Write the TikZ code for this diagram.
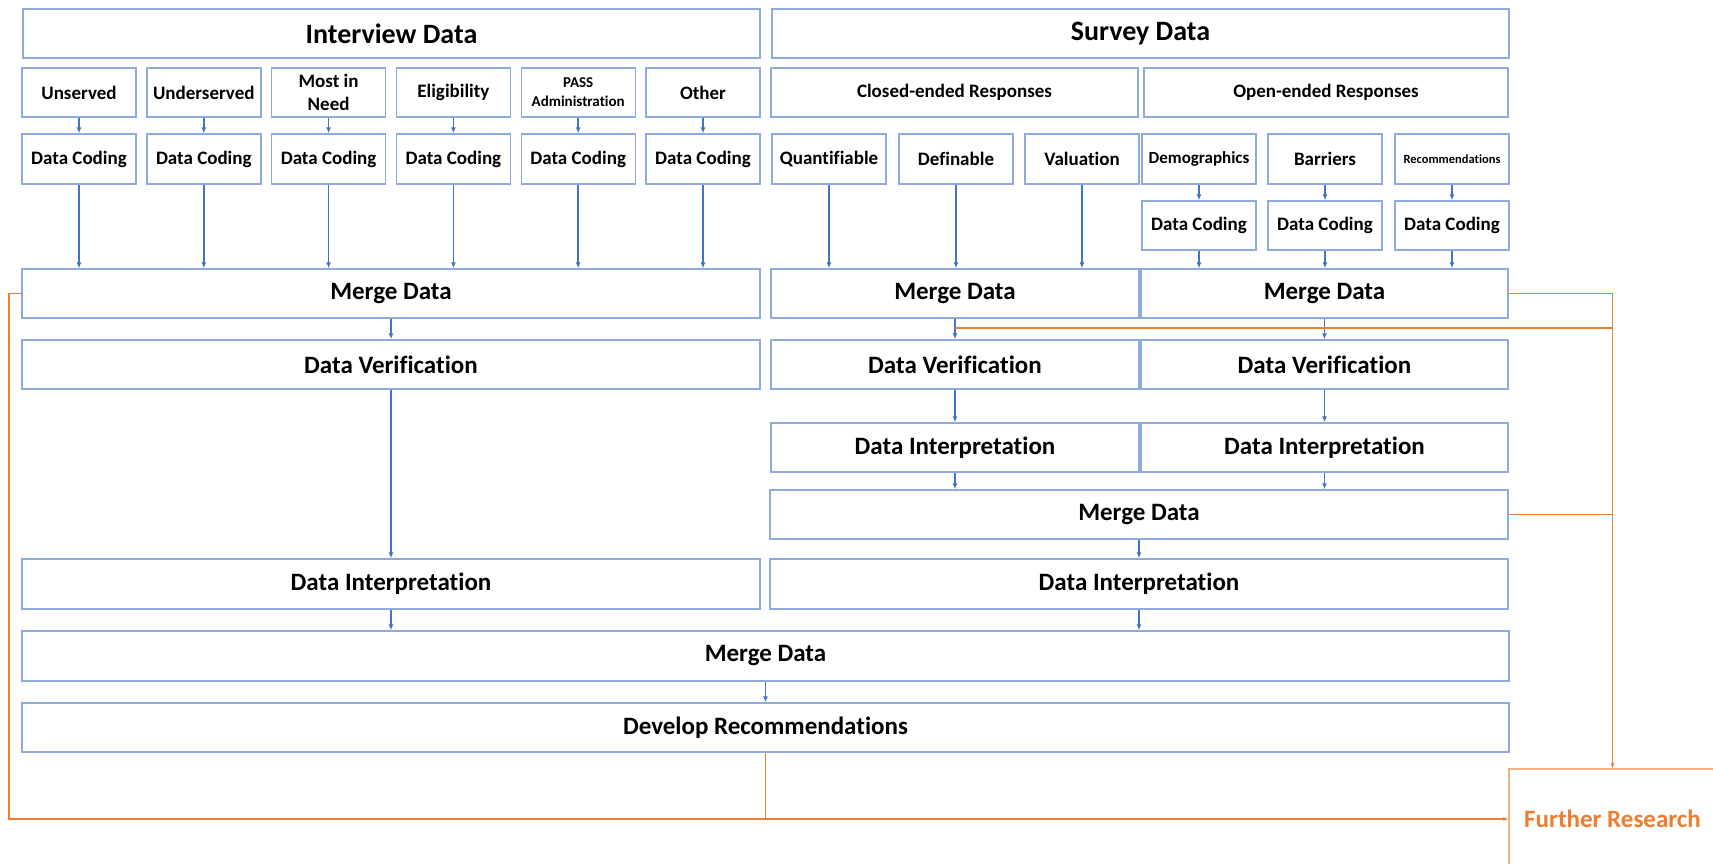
\documentclass[tikz,border=0pt]{standalone}
\usepackage{fontspec}
\setmainfont{Carlito}[Ligatures=NoCommon]
\usetikzlibrary{arrows.meta}
\definecolor{boxblue}{RGB}{143,170,220}
\definecolor{arrblue}{RGB}{68,114,196}
\definecolor{fborange}{RGB}{237,125,49}
\definecolor{fblight}{RGB}{244,177,131}

\begin{document}
\begin{tikzpicture}[
  x=1pt, y=-1pt,
  box/.style={
    draw=boxblue, line width=1.4pt, fill=white,
    inner sep=0pt, align=center, font=\bfseries
  },
  f28/.style={font=\bfseries\fontsize{28}{30}\selectfont},
  f25/.style={font=\bfseries\fontsize{25}{27}\selectfont},
  f19/.style={font=\bfseries\fontsize{19}{23}\selectfont},
  f17/.style={font=\bfseries\fontsize{17}{19}\selectfont},
  f15/.style={font=\bfseries\fontsize{15}{19}\selectfont},
  f12/.style={font=\bfseries\fontsize{12.5}{14}\selectfont},
  sm/.style={box, minimum width=114pt, minimum height=49pt},
  half/.style={box, f25, minimum width=368pt, minimum height=49pt},
  wide/.style={box, f25, minimum width=738pt, minimum height=49pt},
  full/.style={box, f25, minimum width=1487pt, minimum height=49pt},
  arr/.style={draw=arrblue, line width=1.5pt, -{Latex[length=6pt,width=5pt]}},
  fb/.style={draw=fborange, line width=1.2pt}
]
  \useasboundingbox (0,0) rectangle (1713,864);
  \clip (0,0) rectangle (1713,864);

  \node[box, f28, minimum width=737pt, minimum height=49pt] (intv) at (391.5,33.5) {Interview Data};
  \node[box, f28, minimum width=737pt, minimum height=49pt] (surv) at (1140.5,33.5) {Survey Data};
  \node[box, f19, minimum width=367pt, minimum height=49pt] (clsd) at (954.5,92.5) {Closed-ended Responses};
  \node[box, f19, minimum width=364pt, minimum height=49pt] (opnd) at (1326,92.5) {Open-ended Responses};

  \node[wide] (imrg) at (391,293.5) {Merge Data};
  \node[half] (cmrg) at (955,293.5) {Merge Data};
  \node[half, minimum width=367pt] (omrg) at (1324.5,293.5) {Merge Data};

  % interview branches
  \foreach \n/\x/\f/\t in {1/79/f19/Unserved, 2/203.8/f19/Underserved,
      3/328.6/f19/{Most in\\Need}, 4/453.4/f19/Eligibility,
      5/578.2/f15/{PASS\\Administration}, 6/703/f19/Other} {
    \node[sm, \f] (t\n) at (\x,92.5) {\t};
    \node[sm, f19, minimum height=50pt] (c\n) at (\x,159) {Data Coding};
    \draw[arr] (t\n) -- (c\n);
    \draw[arr] (c\n) -- (c\n |- imrg.north);
  }

  % closed-ended items
  \foreach \n/\x/\t in {1/829/Quantifiable, 2/956/Definable, 3/1082/Valuation} {
    \node[sm, f19, minimum height=50pt] (q\n) at (\x,159) {\t};
    \draw[arr] (q\n) -- (q\n |- cmrg.north);
  }

  % open-ended items
  \foreach \n/\x/\f/\t in {1/1199/f17/Demographics, 2/1325/f19/Barriers,
      3/1452/f12/Recommendations} {
    \node[sm, \f, minimum height=50pt] (o\n) at (\x,159) {\t};
    \node[sm, f19] (d\n) at (\x,225.5) {Data Coding};
    \draw[arr] (o\n) -- (d\n);
    \draw[arr] (d\n) -- (d\n |- omrg.north);
  }

  \node[wide] (ivrf) at (391,364.5) {Data Verification};
  \node[half] (cvrf) at (955,364.5) {Data Verification};
  \node[half, minimum width=367pt] (ovrf) at (1324.5,364.5) {Data Verification};
  \node[half] (cint) at (955,447.5) {Data Interpretation};
  \node[half, minimum width=367pt] (oint) at (1324.5,447.5) {Data Interpretation};
  \node[wide] (smrg) at (1139,514.5) {Merge Data};
  \node[wide, minimum height=50pt] (iint) at (391,584) {Data Interpretation};
  \node[wide, minimum height=50pt] (sint) at (1139,584) {Data Interpretation};
  \node[full, minimum height=50pt] (fmrg) at (765.5,656) {Merge Data};
  \node[full] (dev) at (765.5,727.5) {Develop Recommendations};
  \node[draw=fblight, line width=1.2pt, fill=white, text=fborange, f25,
    minimum width=207pt, minimum height=100pt] (fr) at (1612.5,819) {Further Research};

  \draw[arr] (imrg) -- (ivrf);
  \draw[arr] (ivrf) -- (iint);
  \draw[arr] (cmrg) -- (cvrf);
  \draw[arr] (omrg) -- (ovrf);
  \draw[arr] (cvrf) -- (cint);
  \draw[arr] (ovrf) -- (oint);
  \draw[arr] (cint) -- (cint |- smrg.north);
  \draw[arr] (oint) -- (oint |- smrg.north);
  \draw[arr] (smrg) -- (sint);
  \draw[arr] (iint) -- (iint |- fmrg.north);
  \draw[arr] (sint) -- (sint |- fmrg.north);
  \draw[arr] (fmrg) -- (dev);

  % feedback to further research
  \coordinate (lft) at (9,819);
  \coordinate (tap) at (955,328);
  \draw[fb, -{Latex[length=5pt,width=4pt]}] (imrg.west) -| (lft) -- (fr.west);
  \draw[fb] (dev.south) -- (dev.south |- fr.west);
  \draw[fb, -{Latex[length=5pt,width=4pt]}] (omrg.east) -| (fr.north);
  \draw[fb] (tap) -- (tap -| fr.north);
  \draw[fb] (smrg.east) -- (smrg.east -| fr.north);
\end{tikzpicture}
\end{document}
